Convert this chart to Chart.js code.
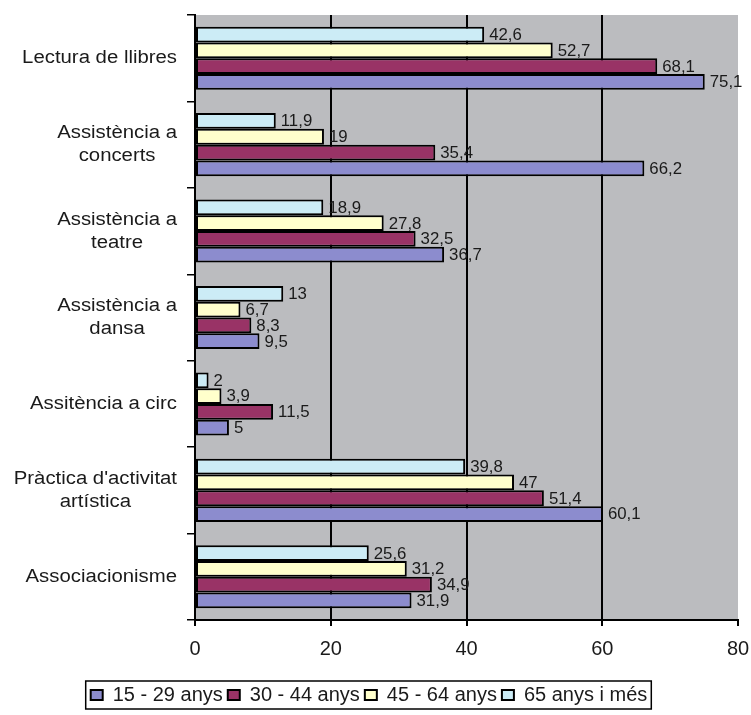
<!DOCTYPE html>
<html>
<head>
<meta charset="utf-8">
<script src="https://cdn.jsdelivr.net/npm/chart.js@4/dist/chart.umd.min.js"></script>
<style>
html,body{margin:0;padding:0;background:#fff;}
#wrap{width:751px;height:715px;}
</style>
</head>
<body>
<div id="wrap"><canvas id="c" width="751" height="715"></canvas></div>
<script>
// ---- data ----
const categories = [
  'Lectura de llibres',
  ['Assistència a', 'concerts'],
  ['Assistència a', 'teatre'],
  ['Assistència a', 'dansa'],
  'Assitència a circ',
  ["Pràctica d'activitat", 'artística'],
  'Associacionisme'
];
const seriesNames = ['15 - 29 anys', '30 - 44 anys', '45 - 64 anys', '65 anys i més'];
const age15_29 = [75.1, 66.2, 36.7, 9.5, 5, 60.1, 31.9];
const age30_44 = [68.1, 35.4, 32.5, 8.3, 11.5, 51.4, 34.9];
const age45_64 = [52.7, 19, 27.8, 6.7, 3.9, 47, 31.2];
const age65plus = [42.6, 11.9, 18.9, 13, 2, 39.8, 25.6];
const xTicks = [0, 20, 40, 60, 80];

const colors = ['#8c8cce', '#993366', '#ffffcc', '#ccecf6'];
const FONT = '"Liberation Sans", Arial, sans-serif';
const TEXT = '#1a1a1a';
const SX = 1.13; // horizontal stretch of the reference lettering

const fmt = v => String(v).replace('.', ',');

// dataset order: last series first, so it sits on top in each group
const seriesValues = [age15_29, age30_44, age45_64, age65plus];
const datasets = [3, 2, 1, 0].map(i => ({
  label: seriesNames[i],
  data: seriesValues[i],
  backgroundColor: colors[i],
  borderColor: '#000',
  borderWidth: 2,
  borderSkipped: false,
  categoryPercentage: 0.73,
  barPercentage: 1.0
}));

const plotBg = {
  id: 'plotBg',
  beforeDraw(chart) {
    const a = chart.chartArea, ctx = chart.ctx;
    ctx.save();
    ctx.fillStyle = '#bbbcbf';
    ctx.fillRect(a.left, a.top, a.right - a.left, a.bottom - a.top);
    ctx.restore();
  }
};

const catLabels = {
  id: 'catLabels',
  afterDraw(chart) {
    const sc = chart.scales.y, ctx = chart.ctx;
    const right = chart.chartArea.left - 18;
    const lh = 23;
    ctx.save();
    ctx.font = '18px ' + FONT;
    ctx.fillStyle = TEXT;
    ctx.textAlign = 'center';
    ctx.textBaseline = 'middle';
    categories.forEach((lab, i) => {
      const lines = Array.isArray(lab) ? lab : [lab];
      const maxW = Math.max(...lines.map(l => ctx.measureText(l).width)) * SX;
      const cx = right - maxW / 2;
      const cy = sc.getPixelForValue(i);
      lines.forEach((l, j) => {
        const y = cy + (j - (lines.length - 1) / 2) * lh;
        ctx.save();
        ctx.translate(cx, y);
        ctx.scale(SX, 1);
        ctx.fillText(l, 0, 0);
        ctx.restore();
      });
    });
    ctx.restore();
  }
};

const valueLabels = {
  id: 'valueLabels',
  afterDatasetsDraw(chart) {
    const ctx = chart.ctx;
    ctx.save();
    ctx.font = '16px ' + FONT;
    ctx.fillStyle = TEXT;
    ctx.textAlign = 'left';
    ctx.textBaseline = 'middle';
    chart.data.datasets.forEach((ds, di) => {
      const meta = chart.getDatasetMeta(di);
      meta.data.forEach((bar, i) => {
        ctx.save();
        ctx.translate(bar.x + 5, bar.y + 1);
        ctx.scale(1.05, 1);
        ctx.fillText(fmt(ds.data[i]), 0, 0);
        ctx.restore();
      });
    });
    ctx.restore();
  }
};

const legendBorder = {
  id: 'legendBorder',
  afterDraw(chart) {
    const lg = chart.legend;
    if (!lg || !lg.legendHitBoxes || !lg.legendHitBoxes.length) return;
    const hb = lg.legendHitBoxes;
    const l = Math.min(...hb.map(b => b.left)) - 5;
    const r = Math.max(...hb.map(b => b.left + b.width)) + 4;
    const t = Math.min(...hb.map(b => b.top)) - 4;
    const btm = Math.max(...hb.map(b => b.top + b.height)) + 4;
    const ctx = chart.ctx;
    ctx.save();
    ctx.strokeStyle = '#000';
    ctx.lineWidth = 1.5;
    ctx.strokeRect(l, t, r - l, btm - t);
    ctx.restore();
  }
};

new Chart(document.getElementById('c'), {
  type: 'bar',
  data: { labels: categories, datasets },
  plugins: [plotBg, catLabels, valueLabels, legendBorder],
  options: {
    indexAxis: 'y',
    responsive: false,
    animation: false,
    devicePixelRatio: 1,
    layout: { padding: { top: 15, right: 13, bottom: 0, left: 0 } },
    scales: {
      x: {
        min: 0, max: 80,
        afterBuildTicks(scale) { scale.ticks = xTicks.map(v => ({ value: v })); },
        afterFit(scale) {
          scale.height = 60;
          scale.paddingRight = 0;
          scale.paddingLeft = 0;
        },
        grid: {
          color: c => (c.tick && c.tick.value === 80) ? 'rgba(0,0,0,0)' : '#000',
          tickColor: '#000',
          lineWidth: 2,
          tickLength: 6,
          drawTicks: true
        },
        border: { color: '#000', width: 2 },
        ticks: {
          font: { size: 20, family: FONT },
          color: TEXT,
          padding: 11,
          maxRotation: 0,
          callback: v => String(v)
        }
      },
      y: {
        afterFit(scale) { scale.width = 195; },
        grid: {
          drawOnChartArea: false,
          drawTicks: true,
          tickLength: 8,
          color: '#000',
          lineWidth: 1.5,
          offset: true
        },
        border: { color: '#000', width: 2 },
        ticks: { display: false }
      }
    },
    plugins: {
      legend: {
        position: 'bottom',
        reverse: true,
        labels: {
          font: { size: 20, family: FONT },
          color: TEXT,
          boxWidth: 12,
          boxHeight: 10,
          padding: 5
        }
      },
      tooltip: { enabled: false }
    }
  }
});
</script>
</body>
</html>
